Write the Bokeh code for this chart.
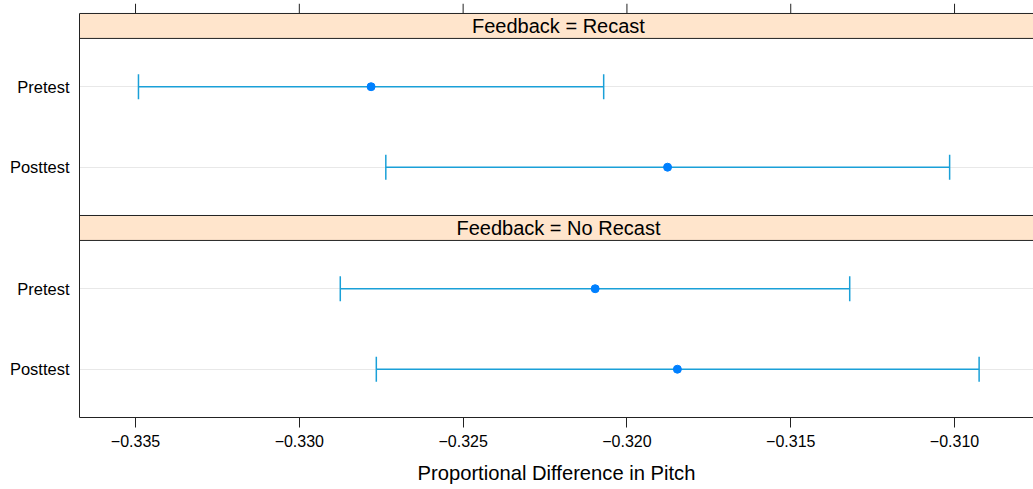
from bokeh.plotting import figure
from bokeh.models import Range1d, FixedTicker, ColumnDataSource
from bokeh.embed import file_html
from bokeh.resources import INLINE
from bokeh.core.properties import value

# ---- data -------------------------------------------------------------
panels = ["Recast", "No Recast"]          # top panel first
tests = ["Pretest", "Posttest"]

recast_lower = [-0.33491, -0.32736]
recast_mean = [-0.32781, -0.31876]
recast_upper = [-0.32071, -0.31015]

norecast_lower = [-0.32875, -0.32765]
norecast_mean = [-0.32097, -0.31846]
norecast_upper = [-0.31320, -0.30925]

x_ticks = [-0.335, -0.330, -0.325, -0.320, -0.315, -0.310]
x_tick_labels = ["\u22120.335", "\u22120.330", "\u22120.325",
                 "\u22120.320", "\u22120.315", "\u22120.310"]

# ---- layout in y units ------------------------------------------------
row_pos = {"Posttest": 1.0, "Pretest": 2.0}
PANEL_LO, PANEL_HI = 0.4, 2.6
STRIP_H = 0.31
panel_offset = {"No Recast": 0.0, "Recast": (PANEL_HI - PANEL_LO) + STRIP_H}
X_LO, X_HI = -0.33671, -0.30759
X_PANEL_HI = -0.30747
CAP = 0.155
TOP_TICK = 0.124          # length of the tick marks above the top strip

FONT = "Liberation Sans"
BAR_COL = "#1aa0d8"
DOT_COL = "#0080ff"
EDGE = "#222222"

lower = {"Recast": recast_lower, "No Recast": norecast_lower}
mean = {"Recast": recast_mean, "No Recast": norecast_mean}
upper = {"Recast": recast_upper, "No Recast": norecast_upper}

ys, lo, mid, hi = [], [], [], []
for pan in panels:
    for i, t in enumerate(tests):
        ys.append(row_pos[t] + panel_offset[pan])
        lo.append(lower[pan][i])
        mid.append(mean[pan][i])
        hi.append(upper[pan][i])

src = ColumnDataSource(dict(
    y=ys, lo=lo, mid=mid, hi=hi,
    ylo=[v - CAP for v in ys], yhi=[v + CAP for v in ys],
))

y_top = panel_offset["Recast"] + PANEL_HI + STRIP_H

p = figure(width=1033, height=489, output_backend="svg", toolbar_location=None,
           x_range=Range1d(X_LO, X_HI),
           y_range=Range1d(PANEL_LO, y_top + TOP_TICK),
           min_border_left=79, min_border_right=0, min_border_top=3,
           min_border_bottom=72, outline_line_color=None,
           background_fill_color="white", border_fill_color="white")

# horizontal reference lines at each row
row_ticks = sorted(ys)
p.ygrid.ticker = FixedTicker(ticks=row_ticks)
p.ygrid.grid_line_color = "#e8e8e8"
p.ygrid.grid_line_width = 1
p.xgrid.grid_line_color = None

# the grid lines must stop under the top strip: cover the tick band
p.quad(left=X_LO, right=X_PANEL_HI, bottom=y_top, top=y_top + TOP_TICK,
       fill_color="white", line_color=None)

# tick marks above the top strip
p.segment(x0=x_ticks, y0=y_top, x1=x_ticks, y1=y_top + TOP_TICK,
          line_color=EDGE, line_width=1)

# strips
strip_bottom = [panel_offset[pan] + PANEL_HI for pan in panels]
p.quad(left=X_LO, right=X_PANEL_HI, bottom=strip_bottom,
       top=[b + STRIP_H for b in strip_bottom],
       fill_color="#ffe5cc", line_color=EDGE, line_width=1)
p.text(x=(X_LO + X_PANEL_HI) / 2, y=[b + STRIP_H / 2 for b in strip_bottom],
       text=["Feedback = " + pan for pan in panels],
       text_align="center", text_baseline="middle",
       text_font=value(FONT), text_font_size="20px", text_color="black")

# intervals
p.segment(x0="lo", y0="y", x1="hi", y1="y", source=src,
          line_color=BAR_COL, line_width=1.5)
p.segment(x0="lo", y0="ylo", x1="lo", y1="yhi", source=src,
          line_color=BAR_COL, line_width=1.5)
p.segment(x0="hi", y0="ylo", x1="hi", y1="yhi", source=src,
          line_color=BAR_COL, line_width=1.5)
p.scatter(x="mid", y="y", source=src, size=8,
          fill_color=DOT_COL, line_color=DOT_COL)

# bottom axis
xa = p.xaxis[0]
xa.ticker = FixedTicker(ticks=x_ticks)
xa.major_label_overrides = dict(zip(x_ticks, x_tick_labels))
xa.major_tick_out = 10
xa.major_tick_in = 0
xa.minor_tick_out = 0
xa.minor_tick_in = 0
xa.major_label_standoff = 7
xa.major_label_text_font = FONT
xa.major_label_text_font_size = "16px"
xa.major_label_text_color = "black"
xa.axis_line_color = EDGE
xa.major_tick_line_color = EDGE
xa.axis_label = "Proportional Difference in Pitch"
xa.axis_label_text_font = FONT
xa.axis_label_text_font_size = "20.2px"
xa.axis_label_text_font_style = "normal"
xa.axis_label_text_color = "black"
xa.axis_label_standoff = 12

# left axis: row labels, line only up to the top strip
ya = p.yaxis[0]
ya.bounds = (PANEL_LO, y_top)
ya.ticker = FixedTicker(ticks=row_ticks)
ya.major_label_overrides = {row_pos[t] + panel_offset[pan]: t
                            for pan in panels for t in tests}
ya.major_tick_out = 0
ya.major_tick_in = 0
ya.minor_tick_out = 0
ya.minor_tick_in = 0
ya.major_label_standoff = 10
ya.major_label_text_font = FONT
ya.major_label_text_font_size = "16.5px"
ya.major_label_text_color = "black"
ya.axis_line_color = EDGE

open("out.html", "w").write(file_html(p, INLINE))
